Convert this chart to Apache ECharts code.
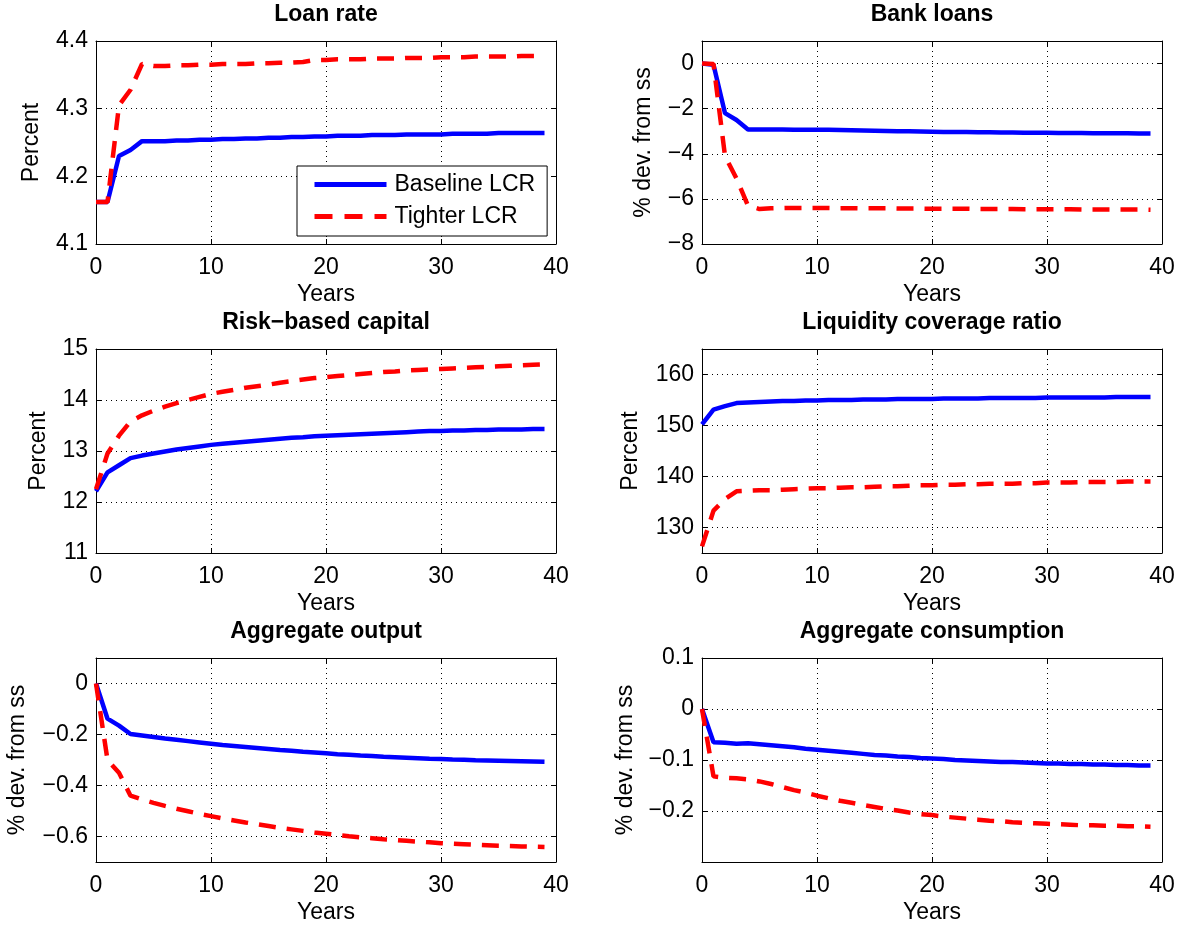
<!DOCTYPE html>
<html><head><meta charset="utf-8">
<script src="https://cdn.jsdelivr.net/npm/echarts@6/dist/echarts.min.js"></script>
<style>html,body{margin:0;padding:0;background:#fff}#c{width:1181px;height:926px}</style>
</head><body><div id="c"></div>
<script>
// ---- data ----
const years = [0,1,2,3,4,5,6,7,8,9,10,11,12,13,14,15,16,17,18,19,20,21,22,23,24,25,26,27,28,29,30,31,32,33,34,35,36,37,38,39];
const seriesNames = ['Baseline LCR', 'Tighter LCR'];
const titles = ['Loan rate', 'Bank loans', 'Risk\u2212based capital', 'Liquidity coverage ratio', 'Aggregate output', 'Aggregate consumption'];
const yNames = ['Percent', '% dev. from ss', 'Percent', 'Percent', '% dev. from ss', '% dev. from ss'];
const xTicks = [0, 10, 20, 30, 40];

const loanRateBaseline = [4.162,4.162,4.230,4.239,4.252,4.252,4.252,4.253,4.253,4.254,4.254,4.255,4.255,4.256,4.256,4.257,4.257,4.258,4.258,4.259,4.259,4.260,4.260,4.260,4.261,4.261,4.261,4.262,4.262,4.262,4.262,4.263,4.263,4.263,4.263,4.264,4.264,4.264,4.264,4.264];
const loanRateTighter = [4.162,4.162,4.305,4.328,4.366,4.363,4.363,4.364,4.364,4.365,4.365,4.366,4.366,4.366,4.367,4.367,4.368,4.368,4.369,4.372,4.372,4.373,4.373,4.373,4.374,4.374,4.374,4.375,4.375,4.375,4.376,4.376,4.376,4.377,4.377,4.377,4.377,4.378,4.378,4.378];
const loanRateTicks = [4.1, 4.2, 4.3, 4.4];

const bankLoansBaseline = [0,-0.05,-2.2,-2.5,-2.92,-2.92,-2.92,-2.92,-2.93,-2.93,-2.93,-2.94,-2.95,-2.96,-2.97,-2.98,-2.99,-3.00,-3.00,-3.01,-3.02,-3.03,-3.03,-3.04,-3.05,-3.05,-3.06,-3.06,-3.07,-3.07,-3.07,-3.08,-3.08,-3.08,-3.09,-3.09,-3.09,-3.09,-3.10,-3.10];
const bankLoansTighter = [0,-0.02,-4.1,-5.1,-6.3,-6.45,-6.42,-6.41,-6.40,-6.40,-6.40,-6.40,-6.41,-6.41,-6.42,-6.42,-6.42,-6.43,-6.43,-6.43,-6.44,-6.44,-6.44,-6.44,-6.45,-6.45,-6.45,-6.45,-6.46,-6.46,-6.46,-6.46,-6.46,-6.47,-6.47,-6.47,-6.47,-6.47,-6.47,-6.48];
const bankLoansTicks = [-8, -6, -4, -2, 0];

const capitalBaseline = [12.21,12.58,12.72,12.86,12.91,12.95,12.99,13.03,13.06,13.09,13.12,13.14,13.16,13.18,13.20,13.22,13.24,13.26,13.27,13.29,13.30,13.31,13.32,13.33,13.34,13.35,13.36,13.37,13.38,13.39,13.39,13.40,13.40,13.41,13.41,13.42,13.42,13.42,13.43,13.43];
const capitalTighter = [12.25,12.95,13.30,13.58,13.70,13.79,13.87,13.94,14.00,14.06,14.12,14.16,14.20,14.24,14.27,14.30,14.34,14.37,14.40,14.43,14.45,14.47,14.49,14.51,14.53,14.55,14.56,14.58,14.59,14.60,14.61,14.62,14.63,14.64,14.65,14.66,14.67,14.68,14.69,14.70];
const capitalTicks = [11, 12, 13, 14, 15];

const lcrBaseline = [150.2,153.1,153.8,154.4,154.5,154.6,154.7,154.8,154.8,154.9,154.9,155.0,155.0,155.0,155.1,155.1,155.1,155.2,155.2,155.2,155.2,155.3,155.3,155.3,155.3,155.4,155.4,155.4,155.4,155.4,155.5,155.5,155.5,155.5,155.5,155.5,155.6,155.6,155.6,155.6];
const lcrTighter = [126.3,133.3,135.6,137.1,137.2,137.3,137.3,137.4,137.5,137.6,137.7,137.7,137.8,137.9,137.9,138.0,138.1,138.1,138.2,138.3,138.3,138.4,138.4,138.5,138.5,138.6,138.6,138.6,138.7,138.7,138.8,138.8,138.8,138.9,138.9,138.9,138.9,139.0,139.0,139.0];
const lcrTicks = [130, 140, 150, 160];

const outputBaseline = [0,-0.138,-0.165,-0.198,-0.204,-0.210,-0.216,-0.221,-0.226,-0.231,-0.236,-0.241,-0.245,-0.249,-0.253,-0.257,-0.261,-0.264,-0.268,-0.271,-0.274,-0.277,-0.279,-0.282,-0.284,-0.287,-0.289,-0.291,-0.293,-0.295,-0.296,-0.298,-0.299,-0.301,-0.302,-0.303,-0.304,-0.305,-0.306,-0.307];
const outputTighter = [0,-0.30,-0.35,-0.44,-0.455,-0.468,-0.480,-0.491,-0.501,-0.511,-0.520,-0.529,-0.537,-0.545,-0.552,-0.559,-0.566,-0.572,-0.578,-0.584,-0.589,-0.594,-0.599,-0.603,-0.607,-0.611,-0.614,-0.617,-0.620,-0.623,-0.626,-0.628,-0.630,-0.632,-0.634,-0.636,-0.637,-0.639,-0.640,-0.641];
const outputTicks = [-0.6, -0.4, -0.2, 0];

const consumptionBaseline = [0,-0.065,-0.066,-0.068,-0.067,-0.069,-0.071,-0.073,-0.075,-0.078,-0.080,-0.082,-0.084,-0.086,-0.088,-0.090,-0.091,-0.093,-0.094,-0.096,-0.097,-0.098,-0.100,-0.101,-0.102,-0.103,-0.104,-0.104,-0.105,-0.106,-0.107,-0.107,-0.108,-0.108,-0.109,-0.109,-0.110,-0.110,-0.111,-0.111];
const consumptionTighter = [0,-0.132,-0.135,-0.136,-0.138,-0.142,-0.147,-0.153,-0.159,-0.164,-0.170,-0.175,-0.180,-0.184,-0.188,-0.192,-0.196,-0.199,-0.203,-0.206,-0.208,-0.211,-0.213,-0.215,-0.217,-0.219,-0.220,-0.222,-0.223,-0.224,-0.225,-0.226,-0.227,-0.228,-0.228,-0.229,-0.229,-0.230,-0.230,-0.231];
const consumptionTicks = [-0.2, -0.1, 0, 0.1];

// axis ranges
const yRanges = [[4.1, 4.4], [-8, 1], [11, 15], [125, 165], [-0.7, 0.1], [-0.3, 0.1]];
const baseData = [loanRateBaseline, bankLoansBaseline, capitalBaseline, lcrBaseline, outputBaseline, consumptionBaseline];
const tightData = [loanRateTighter, bankLoansTighter, capitalTighter, lcrTighter, outputTighter, consumptionTighter];
const yTicks = [loanRateTicks, bankLoansTicks, capitalTicks, lcrTicks, outputTicks, consumptionTicks];

// ---- layout / style ----
const FONT = '"Liberation Sans", Arial, Helvetica, sans-serif';
const FS = 23;
const boxes = [[96,41,460,203],[702,41,460,203],[96,349,460,204],[702,349,460,204],[96,658,460,204],[702,658,460,204]];
const titleY = [15, 15, 323, 323, 632, 632];
const yNameGap = [53, 47, 46, 60, 67, 65];
const gridLine = {show: true, lineStyle: {type: [1, 4], color: '#000', width: 1}};
const fmt = v => String(v).replace('-', '\u2212');

const grid = [], xAxis = [], yAxis = [], series = [], graphic = [];
boxes.forEach((b, i) => {
  grid.push({left: b[0], top: b[1], width: b[2], height: b[3], containLabel: false});
  const tick = {show: true, inside: true, length: 5, lineStyle: {color: '#000', width: 1}};
  const line = {show: true, onZero: false, lineStyle: {color: '#000', width: 1}};
  xAxis.push({type: 'value', gridIndex: i, min: 0, max: 40, position: 'bottom',
    axisLine: line, axisTick: Object.assign({customValues: xTicks}, tick),
    axisLabel: {customValues: xTicks, fontSize: FS, color: '#000', fontFamily: FONT, margin: 12},
    splitLine: gridLine,
    name: 'Years', nameLocation: 'middle', nameGap: 39,
    nameTextStyle: {fontSize: FS, color: '#000', fontFamily: FONT}});
  xAxis.push({type: 'value', gridIndex: i, min: 0, max: 40, position: 'top',
    axisLine: line, axisTick: Object.assign({customValues: xTicks}, tick),
    axisLabel: {show: false}, splitLine: {show: false}});
  yAxis.push({type: 'value', gridIndex: i, min: yRanges[i][0], max: yRanges[i][1], position: 'left',
    axisLine: line, axisTick: Object.assign({customValues: yTicks[i]}, tick),
    axisLabel: {customValues: yTicks[i], formatter: fmt, fontSize: FS, color: '#000', fontFamily: FONT, margin: 8},
    splitLine: gridLine,
    name: yNames[i], nameLocation: 'middle', nameGap: yNameGap[i],
    nameTextStyle: {fontSize: FS, color: '#000', fontFamily: FONT}});
  yAxis.push({type: 'value', gridIndex: i, min: yRanges[i][0], max: yRanges[i][1], position: 'right',
    axisLine: line, axisTick: Object.assign({customValues: yTicks[i]}, tick),
    axisLabel: {show: false}, splitLine: {show: false}});
  series.push({name: seriesNames[0], type: 'line', xAxisIndex: 2*i, yAxisIndex: 2*i,
    data: years.map((t, k) => [t, baseData[i][k]]), symbol: 'none', showSymbol: false,
    lineStyle: {color: '#0000ff', width: 4.5, type: 'solid'}, itemStyle: {color: '#0000ff'}, z: 3});
  series.push({name: seriesNames[1], type: 'line', xAxisIndex: 2*i, yAxisIndex: 2*i,
    data: years.map((t, k) => [t, tightData[i][k]]), symbol: 'none', showSymbol: false,
    lineStyle: {color: '#ff0000', width: 4.5, type: [17, 11]}, itemStyle: {color: '#ff0000'}, z: 4});
  graphic.push({type: 'text', x: b[0] + b[2] / 2, y: titleY[i],
    style: {text: titles[i], align: 'center', verticalAlign: 'middle', fontSize: 23, fontWeight: 'bold', fontFamily: FONT, fill: '#000'}});
});

const chart = echarts.init(document.getElementById('c'), null, {renderer: 'canvas'});
chart.setOption({
  animation: false,
  backgroundColor: '#fff',
  grid, xAxis, yAxis, series, graphic,
  legend: {
    data: [
      {name: seriesNames[0], lineStyle: {width: 5, type: 'solid'}},
      {name: seriesNames[1], lineStyle: {width: 5, type: [18, 12]}}
    ],
    left: 297, top: 166, orient: 'vertical', selectedMode: false,
    itemWidth: 72, itemHeight: 20, itemGap: 9, padding: [7, 12, 8, 15],
    itemStyle: {opacity: 0},
    lineStyle: {width: 5},
    backgroundColor: '#fff', borderColor: '#000', borderWidth: 1,
    textStyle: {fontSize: FS, color: '#000', fontFamily: FONT, padding: [0, 0, 0, 3]}}
});
</script></body></html>
